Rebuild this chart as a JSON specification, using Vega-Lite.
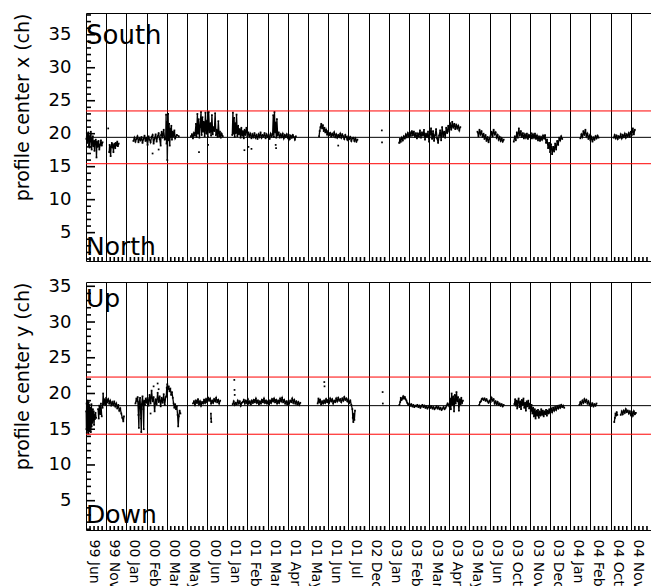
{
  "$schema": "https://vega.github.io/schema/vega-lite/v6.json",
  "background": "white",
  "padding": {"left": 12, "top": 11, "right": 0, "bottom": 0},
  "spacing": 11,
  "config": {
    "view": {"stroke": "black", "strokeWidth": 1},
    "axis": {"labelFont": "DejaVu Sans", "titleFont": "DejaVu Sans", "labelColor": "black", "titleColor": "black", "tickColor": "black", "titleFontWeight": "normal"}
  },
  "datasets": {
    "yminor": [{"k":1},{"k":2},{"k":3},{"k":4},{"k":6},{"k":7},{"k":8},{"k":9},{"k":11},{"k":12},{"k":13},{"k":14},{"k":16},{"k":17},{"k":18},{"k":19},{"k":21},{"k":22},{"k":23},{"k":24},{"k":26},{"k":27},{"k":28},{"k":29},{"k":31},{"k":32},{"k":33},{"k":34},{"k":36},{"k":37},{"k":38}],
    "ymajor": [{"k":5},{"k":10},{"k":15},{"k":20},{"k":25},{"k":30},{"k":35}],
    "xminor": [{"k":0.2},{"k":0.4},{"k":0.6},{"k":0.8},{"k":1.2},{"k":1.4},{"k":1.6},{"k":1.8},{"k":2.2},{"k":2.4},{"k":2.6},{"k":2.8},{"k":3.2},{"k":3.4},{"k":3.6},{"k":3.8},{"k":4.2},{"k":4.4},{"k":4.6},{"k":4.8},{"k":5.2},{"k":5.4},{"k":5.6},{"k":5.8},{"k":6.2},{"k":6.4},{"k":6.6},{"k":6.8},{"k":7.2},{"k":7.4},{"k":7.6},{"k":7.8},{"k":8.2},{"k":8.4},{"k":8.6},{"k":8.8},{"k":9.2},{"k":9.4},{"k":9.6},{"k":9.8},{"k":10.2},{"k":10.4},{"k":10.6},{"k":10.8},{"k":11.2},{"k":11.4},{"k":11.6},{"k":11.8},{"k":12.2},{"k":12.4},{"k":12.6},{"k":12.8},{"k":13.2},{"k":13.4},{"k":13.6},{"k":13.8},{"k":14.2},{"k":14.4},{"k":14.6},{"k":14.8},{"k":15.2},{"k":15.4},{"k":15.6},{"k":15.8},{"k":16.2},{"k":16.4},{"k":16.6},{"k":16.8},{"k":17.2},{"k":17.4},{"k":17.6},{"k":17.8},{"k":18.2},{"k":18.4},{"k":18.6},{"k":18.8},{"k":19.2},{"k":19.4},{"k":19.6},{"k":19.8},{"k":20.2},{"k":20.4},{"k":20.6},{"k":20.8},{"k":21.2},{"k":21.4},{"k":21.6},{"k":21.8},{"k":22.2},{"k":22.4},{"k":22.6},{"k":22.8},{"k":23.2},{"k":23.4},{"k":23.6},{"k":23.8},{"k":24.2},{"k":24.4},{"k":24.6},{"k":24.8},{"k":25.2},{"k":25.4},{"k":25.6},{"k":25.8},{"k":26.2},{"k":26.4},{"k":26.6},{"k":26.8},{"k":27.2},{"k":27.4},{"k":27.6},{"k":27.8}],
    "px": [
      {"s":1,"t":0.02,"v":19.2},{"s":1,"t":0.04,"v":20.1},{"s":1,"t":0.06,"v":18.6},{"s":1,"t":0.08,"v":19.8},{"s":1,"t":0.10,"v":18.9},{"s":1,"t":0.12,"v":20.2},{"s":1,"t":0.14,"v":18.2},{"s":1,"t":0.16,"v":19.5},{"s":1,"t":0.18,"v":17.9},{"s":1,"t":0.20,"v":19.7},{"s":1,"t":0.22,"v":18.8},{"s":1,"t":0.24,"v":20.3},{"s":1,"t":0.26,"v":19.0},{"s":1,"t":0.28,"v":17.6},{"s":1,"t":0.30,"v":19.3},{"s":1,"t":0.32,"v":18.5},{"s":1,"t":0.34,"v":19.6},{"s":1,"t":0.36,"v":18.1},{"s":1,"t":0.40,"v":18.9},{"s":1,"t":0.42,"v":17.4},{"s":1,"t":0.44,"v":18.6},{"s":1,"t":0.48,"v":19.1},{"s":1,"t":0.50,"v":18.4},{"s":1,"t":0.52,"v":16.4},{"s":1,"t":0.54,"v":18.8},{"s":1,"t":0.58,"v":18.0},{"s":1,"t":0.62,"v":18.9},{"s":1,"t":0.66,"v":17.6},{"s":1,"t":0.70,"v":18.3},{"s":1,"t":0.74,"v":19.0},{"s":1,"t":0.78,"v":18.2},{"s":1,"t":0.82,"v":18.7},
      {"s":2,"t":1.1,"v":20.8},
      {"s":3,"t":1.15,"v":17.2},{"s":3,"t":1.17,"v":18.3},{"s":3,"t":1.2,"v":17.6},{"s":3,"t":1.22,"v":16.6},{"s":3,"t":1.24,"v":18.0},{"s":3,"t":1.28,"v":18.6},{"s":3,"t":1.3,"v":17.9},{"s":3,"t":1.33,"v":18.4},{"s":3,"t":1.36,"v":17.2},{"s":3,"t":1.38,"v":18.1},{"s":3,"t":1.42,"v":18.5},{"s":3,"t":1.45,"v":17.8},{"s":3,"t":1.48,"v":18.6},{"s":3,"t":1.52,"v":18.2},{"s":3,"t":1.55,"v":18.8},{"s":3,"t":1.58,"v":18.1},{"s":3,"t":1.62,"v":18.5},
      {"s":4,"t":2.35,"v":18.9},{"s":4,"t":2.4,"v":19.4},{"s":4,"t":2.45,"v":18.8},{"s":4,"t":2.5,"v":19.2},{"s":4,"t":2.55,"v":19.6},{"s":4,"t":2.6,"v":18.7},{"s":4,"t":2.65,"v":19.3},{"s":4,"t":2.7,"v":19.0},{"s":4,"t":2.75,"v":19.5},{"s":4,"t":2.8,"v":18.6},{"s":4,"t":2.85,"v":19.2},{"s":4,"t":2.9,"v":19.7},{"s":4,"t":2.95,"v":18.9},{"s":4,"t":3.0,"v":19.4},{"s":4,"t":3.05,"v":18.3},{"s":4,"t":3.1,"v":19.6},{"s":4,"t":3.15,"v":19.1},{"s":4,"t":3.2,"v":18.7},{"s":4,"t":3.25,"v":19.5},{"s":4,"t":3.3,"v":19.8},{"s":4,"t":3.35,"v":18.5},{"s":4,"t":3.4,"v":19.3},{"s":4,"t":3.45,"v":19.9},{"s":4,"t":3.5,"v":18.8},{"s":4,"t":3.55,"v":19.6},{"s":4,"t":3.6,"v":20.1},{"s":4,"t":3.65,"v":19.2},{"s":4,"t":3.7,"v":18.2},{"s":4,"t":3.72,"v":19.8},{"s":4,"t":3.75,"v":20.3},{"s":4,"t":3.8,"v":19.4},{"s":4,"t":3.85,"v":20.6},{"s":4,"t":3.9,"v":19.1},
      {"s":5,"t":3.3,"v":17.0},{"s":6,"t":3.6,"v":17.6},
      {"s":7,"t":3.95,"v":19.2},{"s":7,"t":3.97,"v":22.9},{"s":7,"t":3.99,"v":18.5},{"s":7,"t":4.01,"v":21.8},{"s":7,"t":4.03,"v":16.0},{"s":7,"t":4.05,"v":20.5},{"s":7,"t":4.07,"v":23.0},{"s":7,"t":4.09,"v":19.0},{"s":7,"t":4.12,"v":21.5},{"s":7,"t":4.15,"v":18.2},{"s":7,"t":4.18,"v":20.8},{"s":7,"t":4.2,"v":19.5},{"s":7,"t":4.23,"v":21.2},{"s":7,"t":4.26,"v":19.1},{"s":7,"t":4.3,"v":20.3},{"s":7,"t":4.34,"v":19.6},{"s":7,"t":4.38,"v":20.5},{"s":7,"t":4.42,"v":19.3},{"s":7,"t":4.5,"v":19.8},{"s":7,"t":4.6,"v":19.6},
      {"s":8,"t":5.2,"v":19.6},{"s":8,"t":5.25,"v":19.9},{"s":8,"t":5.3,"v":19.3},{"s":8,"t":5.35,"v":20.1},{"s":8,"t":5.4,"v":19.7},{"s":8,"t":5.45,"v":21.5},{"s":8,"t":5.48,"v":19.5},{"s":8,"t":5.52,"v":23.0},{"s":8,"t":5.55,"v":20.0},{"s":8,"t":5.58,"v":22.2},{"s":8,"t":5.62,"v":19.4},{"s":8,"t":5.65,"v":21.0},{"s":8,"t":5.7,"v":23.3},{"s":8,"t":5.73,"v":19.8},{"s":8,"t":5.77,"v":22.5},{"s":8,"t":5.8,"v":20.3},{"s":8,"t":5.84,"v":21.8},{"s":8,"t":5.88,"v":19.6},{"s":8,"t":5.92,"v":23.2},{"s":8,"t":5.96,"v":20.0},{"s":8,"t":6.0,"v":22.0},{"s":8,"t":6.04,"v":19.5},{"s":8,"t":6.08,"v":23.3},{"s":8,"t":6.12,"v":20.2},{"s":8,"t":6.16,"v":21.6},{"s":8,"t":6.2,"v":19.7},{"s":8,"t":6.24,"v":22.8},{"s":8,"t":6.28,"v":19.9},{"s":8,"t":6.32,"v":21.0},{"s":8,"t":6.36,"v":20.4},{"s":8,"t":6.4,"v":23.1},{"s":8,"t":6.44,"v":19.8},{"s":8,"t":6.48,"v":20.6},{"s":8,"t":6.52,"v":19.5},{"s":8,"t":6.56,"v":21.9},{"s":8,"t":6.6,"v":19.6},{"s":8,"t":6.64,"v":20.3},{"s":8,"t":6.68,"v":19.4},{"s":8,"t":6.72,"v":20.0},{"s":8,"t":6.78,"v":19.6},
      {"s":9,"t":5.6,"v":17.2},{"s":10,"t":6.05,"v":18.3},
      {"s":11,"t":7.25,"v":19.8},{"s":11,"t":7.28,"v":23.2},{"s":11,"t":7.31,"v":20.0},{"s":11,"t":7.34,"v":22.4},{"s":11,"t":7.37,"v":19.5},{"s":11,"t":7.4,"v":21.6},{"s":11,"t":7.43,"v":20.1},{"s":11,"t":7.46,"v":22.9},{"s":11,"t":7.5,"v":19.6},{"s":11,"t":7.54,"v":21.2},{"s":11,"t":7.58,"v":19.9},{"s":11,"t":7.62,"v":20.7},{"s":11,"t":7.66,"v":19.4},{"s":11,"t":7.7,"v":20.9},{"s":11,"t":7.74,"v":19.7},{"s":11,"t":7.78,"v":20.4},{"s":11,"t":7.82,"v":19.3},{"s":11,"t":7.86,"v":20.6},{"s":11,"t":7.9,"v":19.8},{"s":11,"t":7.95,"v":20.9},{"s":11,"t":8.0,"v":19.5},{"s":11,"t":8.05,"v":20.2},{"s":11,"t":8.1,"v":19.6},{"s":11,"t":8.15,"v":20.0},{"s":11,"t":8.2,"v":19.3},{"s":11,"t":8.25,"v":19.9},{"s":11,"t":8.3,"v":19.5},{"s":11,"t":8.35,"v":20.1},{"s":11,"t":8.4,"v":19.4},{"s":11,"t":8.45,"v":19.8},{"s":11,"t":8.5,"v":19.2},{"s":11,"t":8.55,"v":19.9},{"s":11,"t":8.6,"v":19.5},{"s":11,"t":8.65,"v":20.2},{"s":11,"t":8.7,"v":19.4},{"s":11,"t":8.75,"v":19.8},{"s":11,"t":8.8,"v":19.6},{"s":11,"t":8.85,"v":20.1},{"s":11,"t":8.9,"v":19.3},{"s":11,"t":8.95,"v":19.9},{"s":11,"t":9.0,"v":19.5},{"s":11,"t":9.05,"v":19.8},{"s":11,"t":9.1,"v":19.2},{"s":11,"t":9.15,"v":20.0},{"s":11,"t":9.2,"v":19.6},{"s":11,"t":9.25,"v":19.9},{"s":11,"t":9.28,"v":22.8},{"s":11,"t":9.31,"v":19.5},{"s":11,"t":9.34,"v":23.3},{"s":11,"t":9.37,"v":20.2},{"s":11,"t":9.4,"v":21.7},{"s":11,"t":9.43,"v":19.4},{"s":11,"t":9.46,"v":22.2},{"s":11,"t":9.5,"v":19.7},{"s":11,"t":9.55,"v":20.2},{"s":11,"t":9.6,"v":19.4},{"s":11,"t":9.65,"v":19.9},{"s":11,"t":9.7,"v":19.5},{"s":11,"t":9.75,"v":20.0},{"s":11,"t":9.8,"v":19.3},{"s":11,"t":9.85,"v":19.8},{"s":11,"t":9.9,"v":19.5},{"s":11,"t":9.95,"v":19.9},{"s":11,"t":10.0,"v":19.4},{"s":11,"t":10.05,"v":19.8},{"s":11,"t":10.1,"v":19.2},{"s":11,"t":10.15,"v":19.7},{"s":11,"t":10.2,"v":19.4},{"s":11,"t":10.25,"v":19.8},{"s":11,"t":10.3,"v":19.5},{"s":11,"t":10.35,"v":19.1},{"s":11,"t":10.4,"v":19.6},
      {"s":13,"t":7.85,"v":17.5},{"s":14,"t":8.2,"v":17.7},{"s":15,"t":8.05,"v":18.0},{"s":16,"t":9.4,"v":18.3},{"s":17,"t":9.42,"v":17.8},
      {"s":18,"t":11.55,"v":19.6},{"s":18,"t":11.58,"v":20.4},{"s":18,"t":11.62,"v":21.0},{"s":18,"t":11.66,"v":21.5},{"s":18,"t":11.7,"v":20.8},{"s":18,"t":11.74,"v":21.3},{"s":18,"t":11.78,"v":20.4},{"s":18,"t":11.82,"v":20.9},{"s":18,"t":11.86,"v":20.2},{"s":18,"t":11.9,"v":20.6},{"s":18,"t":11.95,"v":19.9},{"s":18,"t":12.0,"v":20.4},{"s":18,"t":12.05,"v":19.8},{"s":18,"t":12.1,"v":20.1},{"s":18,"t":12.15,"v":19.6},{"s":18,"t":12.2,"v":20.0},{"s":18,"t":12.25,"v":19.7},{"s":18,"t":12.3,"v":20.2},{"s":18,"t":12.35,"v":19.5},{"s":18,"t":12.4,"v":19.9},{"s":18,"t":12.45,"v":19.4},{"s":18,"t":12.5,"v":19.8},{"s":18,"t":12.55,"v":19.5},{"s":18,"t":12.6,"v":20.0},{"s":18,"t":12.65,"v":19.4},{"s":18,"t":12.7,"v":19.9},{"s":18,"t":12.75,"v":19.6},{"s":18,"t":12.8,"v":19.2},{"s":18,"t":12.85,"v":19.8},{"s":18,"t":12.9,"v":19.5},{"s":18,"t":12.95,"v":19.1},{"s":18,"t":13.0,"v":19.6},{"s":18,"t":13.05,"v":19.2},{"s":18,"t":13.1,"v":19.5},{"s":18,"t":13.15,"v":18.9},{"s":18,"t":13.2,"v":19.3},{"s":18,"t":13.25,"v":19.4},{"s":18,"t":13.3,"v":18.9},{"s":18,"t":13.35,"v":19.3},{"s":18,"t":13.4,"v":18.8},{"s":18,"t":13.45,"v":19.1},
      {"s":19,"t":12.5,"v":18.2},{"s":20,"t":14.66,"v":20.5},{"s":21,"t":14.67,"v":18.7},
      {"s":22,"t":15.52,"v":18.6},{"s":22,"t":15.56,"v":19.2},{"s":22,"t":15.6,"v":18.8},{"s":22,"t":15.65,"v":19.4},{"s":22,"t":15.7,"v":19.0},{"s":22,"t":15.75,"v":19.6},{"s":22,"t":15.8,"v":19.3},{"s":22,"t":15.85,"v":19.9},{"s":22,"t":15.9,"v":19.5},{"s":22,"t":15.95,"v":20.1},{"s":22,"t":16.0,"v":19.6},{"s":22,"t":16.05,"v":20.2},{"s":22,"t":16.1,"v":19.7},{"s":22,"t":16.15,"v":20.4},{"s":22,"t":16.2,"v":19.8},{"s":22,"t":16.25,"v":20.3},{"s":22,"t":16.3,"v":19.5},{"s":22,"t":16.35,"v":20.1},{"s":22,"t":16.4,"v":19.3},{"s":22,"t":16.45,"v":20.0},{"s":22,"t":16.5,"v":19.6},{"s":22,"t":16.55,"v":20.5},{"s":22,"t":16.6,"v":19.4},{"s":22,"t":16.65,"v":20.2},{"s":22,"t":16.7,"v":19.7},{"s":22,"t":16.75,"v":20.6},{"s":22,"t":16.8,"v":19.1},{"s":22,"t":16.85,"v":20.0},{"s":22,"t":16.9,"v":19.5},{"s":22,"t":16.95,"v":20.3},{"s":22,"t":17.0,"v":18.8},{"s":22,"t":17.05,"v":19.9},{"s":22,"t":17.1,"v":20.8},{"s":22,"t":17.15,"v":19.2},{"s":22,"t":17.2,"v":20.4},{"s":22,"t":17.25,"v":18.9},{"s":22,"t":17.3,"v":19.8},{"s":22,"t":17.35,"v":20.7},{"s":22,"t":17.4,"v":19.3},{"s":22,"t":17.45,"v":18.6},{"s":22,"t":17.5,"v":19.7},{"s":22,"t":17.55,"v":20.5},{"s":22,"t":17.6,"v":19.0},{"s":22,"t":17.65,"v":21.0},{"s":22,"t":17.7,"v":19.6},{"s":22,"t":17.75,"v":20.3},{"s":22,"t":17.8,"v":19.4},{"s":22,"t":17.85,"v":20.9},{"s":22,"t":17.9,"v":20.1},{"s":22,"t":17.95,"v":21.2},{"s":22,"t":18.0,"v":20.3},{"s":22,"t":18.05,"v":21.6},{"s":22,"t":18.1,"v":20.6},{"s":22,"t":18.15,"v":21.8},{"s":22,"t":18.2,"v":20.9},{"s":22,"t":18.25,"v":21.5},{"s":22,"t":18.3,"v":20.7},{"s":22,"t":18.35,"v":21.4},{"s":22,"t":18.4,"v":20.8},{"s":22,"t":18.45,"v":21.2},{"s":22,"t":18.5,"v":20.5},{"s":22,"t":18.55,"v":21.0},
      {"s":23,"t":19.4,"v":20.3},{"s":23,"t":19.45,"v":19.6},{"s":23,"t":19.5,"v":20.6},{"s":23,"t":19.55,"v":19.9},{"s":23,"t":19.6,"v":20.4},{"s":23,"t":19.65,"v":19.5},{"s":23,"t":19.7,"v":20.0},{"s":23,"t":19.75,"v":19.2},{"s":23,"t":19.8,"v":19.8},{"s":23,"t":19.85,"v":18.9},{"s":23,"t":19.9,"v":19.5},{"s":23,"t":19.95,"v":18.7},{"s":23,"t":20.0,"v":19.3},{"s":23,"t":20.05,"v":19.7},{"s":23,"t":20.1,"v":20.3},{"s":23,"t":20.15,"v":19.6},{"s":23,"t":20.2,"v":20.6},{"s":23,"t":20.25,"v":19.9},{"s":23,"t":20.3,"v":20.2},{"s":23,"t":20.35,"v":19.4},{"s":23,"t":20.4,"v":19.8},{"s":23,"t":20.45,"v":19.1},{"s":23,"t":20.5,"v":19.5},{"s":23,"t":20.55,"v":18.9},{"s":23,"t":20.6,"v":19.3},{"s":23,"t":20.65,"v":18.8},{"s":23,"t":20.7,"v":19.1},
      {"s":24,"t":21.2,"v":18.8},{"s":24,"t":21.25,"v":19.6},{"s":24,"t":21.3,"v":19.0},{"s":24,"t":21.35,"v":20.2},{"s":24,"t":21.4,"v":19.4},{"s":24,"t":21.45,"v":20.8},{"s":24,"t":21.5,"v":19.7},{"s":24,"t":21.55,"v":20.4},{"s":24,"t":21.6,"v":19.5},{"s":24,"t":21.65,"v":20.1},{"s":24,"t":21.7,"v":19.3},{"s":24,"t":21.75,"v":19.9},{"s":24,"t":21.8,"v":19.4},{"s":24,"t":21.85,"v":20.0},{"s":24,"t":21.9,"v":19.2},{"s":24,"t":21.95,"v":19.8},{"s":24,"t":22.0,"v":19.5},{"s":24,"t":22.05,"v":20.1},{"s":24,"t":22.1,"v":19.3},{"s":24,"t":22.15,"v":19.9},{"s":24,"t":22.2,"v":19.4},{"s":24,"t":22.25,"v":20.0},{"s":24,"t":22.3,"v":19.2},{"s":24,"t":22.35,"v":19.7},{"s":24,"t":22.4,"v":19.0},{"s":24,"t":22.45,"v":19.6},{"s":24,"t":22.5,"v":18.9},{"s":24,"t":22.55,"v":19.5},{"s":24,"t":22.6,"v":19.1},{"s":24,"t":22.65,"v":19.7},{"s":24,"t":22.7,"v":19.3},{"s":24,"t":22.75,"v":19.8},{"s":24,"t":22.8,"v":18.6},{"s":24,"t":22.85,"v":19.1},{"s":24,"t":22.9,"v":17.8},{"s":24,"t":22.95,"v":18.6},{"s":24,"t":23.0,"v":17.2},{"s":24,"t":23.05,"v":18.4},{"s":24,"t":23.1,"v":16.9},{"s":24,"t":23.15,"v":18.0},{"s":24,"t":23.2,"v":17.3},{"s":24,"t":23.25,"v":18.5},{"s":24,"t":23.3,"v":17.6},{"s":24,"t":23.35,"v":18.9},{"s":24,"t":23.4,"v":18.3},{"s":24,"t":23.45,"v":19.4},{"s":24,"t":23.5,"v":19.0},{"s":24,"t":23.55,"v":19.6},{"s":24,"t":23.6,"v":19.2},
      {"s":25,"t":24.5,"v":19.3},{"s":25,"t":24.55,"v":19.9},{"s":25,"t":24.6,"v":19.5},{"s":25,"t":24.65,"v":20.4},{"s":25,"t":24.7,"v":19.8},{"s":25,"t":24.75,"v":20.6},{"s":25,"t":24.8,"v":19.6},{"s":25,"t":24.85,"v":20.0},{"s":25,"t":24.9,"v":19.2},{"s":25,"t":24.95,"v":19.7},{"s":25,"t":25.0,"v":19.0},{"s":25,"t":25.05,"v":19.5},{"s":25,"t":25.1,"v":18.8},{"s":25,"t":25.15,"v":19.4},{"s":25,"t":25.2,"v":19.1},{"s":25,"t":25.25,"v":19.6},{"s":25,"t":25.3,"v":19.3},{"s":25,"t":25.35,"v":19.7},{"s":25,"t":25.4,"v":19.4},
      {"s":26,"t":26.15,"v":19.4},{"s":26,"t":26.2,"v":19.8},{"s":26,"t":26.25,"v":19.3},{"s":26,"t":26.3,"v":19.7},{"s":26,"t":26.35,"v":19.2},{"s":26,"t":26.4,"v":19.6},{"s":26,"t":26.45,"v":19.4},{"s":26,"t":26.5,"v":19.9},{"s":26,"t":26.55,"v":19.3},{"s":26,"t":26.6,"v":19.8},{"s":26,"t":26.65,"v":19.5},{"s":26,"t":26.7,"v":20.0},{"s":26,"t":26.75,"v":19.4},{"s":26,"t":26.8,"v":19.9},{"s":26,"t":26.85,"v":19.6},{"s":26,"t":26.9,"v":20.1},{"s":26,"t":26.95,"v":19.5},{"s":26,"t":27.0,"v":20.3},{"s":26,"t":27.05,"v":19.8},{"s":26,"t":27.1,"v":20.8},{"s":26,"t":27.15,"v":19.9},{"s":26,"t":27.2,"v":20.6}
    ],
    "py": [
      {"s":1,"t":0.01,"v":17.5},{"s":1,"t":0.02,"v":15.0},{"s":1,"t":0.03,"v":18.6},{"s":1,"t":0.04,"v":14.5},{"s":1,"t":0.05,"v":17.9},{"s":1,"t":0.06,"v":15.3},{"s":1,"t":0.07,"v":19.0},{"s":1,"t":0.08,"v":14.8},{"s":1,"t":0.09,"v":18.2},{"s":1,"t":0.10,"v":15.6},{"s":1,"t":0.11,"v":17.4},{"s":1,"t":0.12,"v":14.4},{"s":1,"t":0.13,"v":18.8},{"s":1,"t":0.14,"v":15.1},{"s":1,"t":0.15,"v":17.0},{"s":1,"t":0.16,"v":14.7},{"s":1,"t":0.17,"v":18.4},{"s":1,"t":0.18,"v":15.5},{"s":1,"t":0.19,"v":17.7},{"s":1,"t":0.20,"v":14.9},{"s":1,"t":0.21,"v":18.0},{"s":1,"t":0.22,"v":15.2},{"s":1,"t":0.23,"v":16.8},{"s":1,"t":0.24,"v":14.6},{"s":1,"t":0.25,"v":17.6},{"s":1,"t":0.26,"v":15.8},{"s":1,"t":0.27,"v":18.5},{"s":1,"t":0.28,"v":15.4},{"s":1,"t":0.30,"v":17.2},{"s":1,"t":0.32,"v":15.9},{"s":1,"t":0.34,"v":17.8},{"s":1,"t":0.36,"v":16.2},{"s":1,"t":0.38,"v":17.5},{"s":1,"t":0.40,"v":15.6},{"s":1,"t":0.42,"v":17.0},{"s":1,"t":0.44,"v":16.4},{"s":1,"t":0.47,"v":17.3},{"s":1,"t":0.50,"v":16.6},
      {"s":2,"t":0.6,"v":17.8},{"s":2,"t":0.63,"v":16.5},{"s":2,"t":0.66,"v":18.3},{"s":2,"t":0.7,"v":17.1},{"s":2,"t":0.74,"v":18.6},{"s":2,"t":0.78,"v":16.8},
      {"s":3,"t":0.82,"v":18.0},{"s":3,"t":0.85,"v":20.0},{"s":3,"t":0.88,"v":18.5},{"s":3,"t":0.92,"v":19.2},{"s":3,"t":0.96,"v":18.4},{"s":3,"t":1.0,"v":19.4},{"s":3,"t":1.05,"v":18.8},{"s":3,"t":1.1,"v":19.2},{"s":3,"t":1.15,"v":18.6},{"s":3,"t":1.2,"v":19.0},{"s":3,"t":1.25,"v":18.3},{"s":3,"t":1.3,"v":18.8},{"s":3,"t":1.35,"v":18.4},{"s":3,"t":1.4,"v":18.9},{"s":3,"t":1.45,"v":18.2},{"s":3,"t":1.5,"v":18.6},{"s":3,"t":1.55,"v":17.9},{"s":3,"t":1.6,"v":18.4},{"s":3,"t":1.65,"v":17.6},{"s":3,"t":1.7,"v":17.9},{"s":3,"t":1.75,"v":17.2},{"s":3,"t":1.8,"v":16.6},{"s":3,"t":1.85,"v":16.1},{"s":3,"t":1.88,"v":16.8},
      {"s":4,"t":2.45,"v":18.6},{"s":4,"t":2.5,"v":19.3},{"s":4,"t":2.53,"v":18.9},{"s":4,"t":2.56,"v":19.5},{"s":4,"t":2.6,"v":17.0},{"s":4,"t":2.62,"v":15.2},{"s":4,"t":2.64,"v":18.8},{"s":4,"t":2.68,"v":19.4},{"s":4,"t":2.72,"v":16.5},{"s":4,"t":2.74,"v":14.6},{"s":4,"t":2.76,"v":18.5},{"s":4,"t":2.8,"v":19.6},{"s":4,"t":2.84,"v":17.8},{"s":4,"t":2.86,"v":15.0},{"s":4,"t":2.88,"v":19.0},{"s":4,"t":2.92,"v":18.4},{"s":4,"t":2.96,"v":19.3},{"s":4,"t":3.0,"v":18.7},{"s":4,"t":3.05,"v":19.4},{"s":4,"t":3.1,"v":18.3},{"s":4,"t":3.15,"v":19.8},{"s":4,"t":3.2,"v":18.6},{"s":4,"t":3.25,"v":20.4},{"s":4,"t":3.3,"v":18.9},{"s":4,"t":3.35,"v":19.5},{"s":4,"t":3.4,"v":17.5},{"s":4,"t":3.45,"v":19.2},{"s":4,"t":3.5,"v":18.5},{"s":4,"t":3.55,"v":20.1},{"s":4,"t":3.6,"v":18.8},{"s":4,"t":3.65,"v":19.6},{"s":4,"t":3.7,"v":18.2},{"s":4,"t":3.75,"v":19.4},{"s":4,"t":3.8,"v":18.7},{"s":4,"t":3.85,"v":19.9},{"s":4,"t":3.9,"v":18.4},{"s":4,"t":3.95,"v":19.5},
      {"s":6,"t":3.35,"v":21.0},{"s":7,"t":3.55,"v":21.4},{"s":8,"t":3.6,"v":20.6},{"s":9,"t":3.2,"v":17.2},
      {"s":10,"t":3.98,"v":19.6},{"s":10,"t":4.0,"v":20.8},{"s":10,"t":4.03,"v":21.3},{"s":10,"t":4.06,"v":20.6},{"s":10,"t":4.1,"v":21.0},{"s":10,"t":4.14,"v":20.3},{"s":10,"t":4.18,"v":20.7},{"s":10,"t":4.22,"v":19.8},{"s":10,"t":4.26,"v":20.2},{"s":10,"t":4.3,"v":19.4},{"s":10,"t":4.34,"v":18.6},{"s":10,"t":4.38,"v":18.0},{"s":10,"t":4.42,"v":18.5},{"s":10,"t":4.46,"v":17.8},{"s":10,"t":4.5,"v":18.2},{"s":10,"t":4.54,"v":17.0},{"s":10,"t":4.57,"v":15.4},{"s":10,"t":4.6,"v":16.8},{"s":10,"t":4.64,"v":17.6},{"s":10,"t":4.68,"v":17.2},
      {"s":11,"t":5.3,"v":18.6},{"s":11,"t":5.35,"v":18.9},{"s":11,"t":5.4,"v":18.4},{"s":11,"t":5.45,"v":19.0},{"s":11,"t":5.5,"v":18.7},{"s":11,"t":5.55,"v":19.2},{"s":11,"t":5.6,"v":18.5},{"s":11,"t":5.65,"v":18.9},{"s":11,"t":5.7,"v":18.3},{"s":11,"t":5.75,"v":18.8},{"s":11,"t":5.8,"v":18.6},{"s":11,"t":5.85,"v":19.1},{"s":11,"t":5.9,"v":18.7},{"s":11,"t":5.95,"v":19.2},{"s":11,"t":6.0,"v":18.8},{"s":11,"t":6.05,"v":19.4},{"s":11,"t":6.1,"v":19.0},{"s":11,"t":6.15,"v":19.3},{"s":11,"t":6.2,"v":18.6},{"s":11,"t":6.25,"v":19.0},{"s":11,"t":6.3,"v":18.7},{"s":11,"t":6.35,"v":19.2},{"s":11,"t":6.4,"v":18.9},{"s":11,"t":6.45,"v":19.4},{"s":11,"t":6.5,"v":18.8},{"s":11,"t":6.55,"v":19.1},{"s":11,"t":6.6,"v":18.6},{"s":11,"t":6.65,"v":19.0},
      {"s":12,"t":6.19,"v":17.2},{"s":12,"t":6.2,"v":16.5},{"s":12,"t":6.21,"v":16.0},
      {"s":15,"t":7.27,"v":18.5},{"s":15,"t":7.32,"v":18.9},{"s":15,"t":7.37,"v":18.4},{"s":15,"t":7.42,"v":18.7},{"s":15,"t":7.47,"v":18.5},{"s":15,"t":7.52,"v":19.0},{"s":15,"t":7.57,"v":18.6},{"s":15,"t":7.62,"v":18.9},{"s":15,"t":7.67,"v":18.3},{"s":15,"t":7.72,"v":18.7},{"s":15,"t":7.77,"v":18.8},{"s":15,"t":7.82,"v":19.1},{"s":15,"t":7.87,"v":18.6},{"s":15,"t":7.92,"v":19.0},{"s":15,"t":7.97,"v":18.7},{"s":15,"t":8.02,"v":19.2},{"s":15,"t":8.07,"v":18.6},{"s":15,"t":8.12,"v":18.9},{"s":15,"t":8.17,"v":18.5},{"s":15,"t":8.22,"v":19.0},{"s":15,"t":8.27,"v":18.7},{"s":15,"t":8.32,"v":19.1},{"s":15,"t":8.37,"v":18.8},{"s":15,"t":8.42,"v":19.3},{"s":15,"t":8.47,"v":18.7},{"s":15,"t":8.52,"v":19.0},{"s":15,"t":8.57,"v":18.5},{"s":15,"t":8.62,"v":18.9},{"s":15,"t":8.67,"v":18.6},{"s":15,"t":8.72,"v":19.1},{"s":15,"t":8.77,"v":18.8},{"s":15,"t":8.82,"v":19.3},{"s":15,"t":8.87,"v":18.7},{"s":15,"t":8.92,"v":19.0},{"s":15,"t":8.97,"v":18.6},{"s":15,"t":9.02,"v":18.9},{"s":15,"t":9.07,"v":18.5},{"s":15,"t":9.12,"v":19.0},{"s":15,"t":9.17,"v":18.7},{"s":15,"t":9.22,"v":19.2},{"s":15,"t":9.27,"v":18.9},{"s":15,"t":9.32,"v":19.3},{"s":15,"t":9.37,"v":18.8},{"s":15,"t":9.42,"v":19.1},{"s":15,"t":9.47,"v":18.6},{"s":15,"t":9.52,"v":19.0},{"s":15,"t":9.57,"v":18.7},{"s":15,"t":9.62,"v":19.3},{"s":15,"t":9.67,"v":18.9},{"s":15,"t":9.72,"v":19.4},{"s":15,"t":9.77,"v":18.8},{"s":15,"t":9.82,"v":19.1},{"s":15,"t":9.87,"v":18.6},{"s":15,"t":9.92,"v":18.9},{"s":15,"t":9.97,"v":18.5},{"s":15,"t":10.02,"v":18.9},{"s":15,"t":10.07,"v":18.6},{"s":15,"t":10.12,"v":19.0},{"s":15,"t":10.17,"v":18.8},{"s":15,"t":10.22,"v":19.3},{"s":15,"t":10.27,"v":18.7},{"s":15,"t":10.32,"v":19.1},{"s":15,"t":10.37,"v":18.6},{"s":15,"t":10.42,"v":18.9},{"s":15,"t":10.47,"v":18.5},{"s":15,"t":10.52,"v":18.8},{"s":15,"t":10.57,"v":18.4},{"s":15,"t":10.62,"v":18.7},
      {"s":16,"t":7.35,"v":21.9},{"s":17,"t":7.36,"v":20.5},{"s":18,"t":7.37,"v":19.8},
      {"s":19,"t":11.48,"v":18.6},{"s":19,"t":11.52,"v":19.3},{"s":19,"t":11.56,"v":18.8},{"s":19,"t":11.6,"v":19.1},{"s":19,"t":11.65,"v":18.5},{"s":19,"t":11.7,"v":18.9},{"s":19,"t":11.75,"v":18.6},{"s":19,"t":11.8,"v":19.0},{"s":19,"t":11.85,"v":18.7},{"s":19,"t":11.9,"v":19.2},{"s":19,"t":11.95,"v":18.8},{"s":19,"t":12.0,"v":19.1},{"s":19,"t":12.05,"v":18.7},{"s":19,"t":12.1,"v":19.3},{"s":19,"t":12.15,"v":18.9},{"s":19,"t":12.2,"v":19.2},{"s":19,"t":12.25,"v":18.6},{"s":19,"t":12.3,"v":19.0},{"s":19,"t":12.35,"v":18.8},{"s":19,"t":12.4,"v":19.3},{"s":19,"t":12.45,"v":18.9},{"s":19,"t":12.5,"v":19.4},{"s":19,"t":12.55,"v":19.0},{"s":19,"t":12.6,"v":19.2},{"s":19,"t":12.65,"v":18.8},{"s":19,"t":12.7,"v":19.3},{"s":19,"t":12.75,"v":19.0},{"s":19,"t":12.8,"v":19.5},{"s":19,"t":12.85,"v":19.1},{"s":19,"t":12.9,"v":19.3},{"s":19,"t":12.95,"v":18.9},{"s":19,"t":13.0,"v":19.2},{"s":19,"t":13.05,"v":18.7},{"s":19,"t":13.1,"v":19.0},{"s":19,"t":13.15,"v":18.4},{"s":19,"t":13.2,"v":17.8},{"s":19,"t":13.22,"v":16.6},{"s":19,"t":13.25,"v":16.0},{"s":19,"t":13.28,"v":17.2},{"s":19,"t":13.3,"v":16.3},{"s":19,"t":13.33,"v":17.6},
      {"s":20,"t":11.81,"v":21.6},{"s":21,"t":11.82,"v":21.0},{"s":22,"t":14.7,"v":20.2},{"s":23,"t":14.71,"v":18.6},
      {"s":24,"t":15.53,"v":18.4},{"s":24,"t":15.57,"v":18.8},{"s":24,"t":15.6,"v":19.4},{"s":24,"t":15.64,"v":19.1},{"s":24,"t":15.68,"v":19.3},{"s":24,"t":15.72,"v":19.6},{"s":24,"t":15.76,"v":19.3},{"s":24,"t":15.8,"v":19.5},{"s":24,"t":15.84,"v":19.2},{"s":24,"t":15.88,"v":19.0},{"s":24,"t":15.92,"v":18.7},{"s":24,"t":15.97,"v":18.4},{"s":24,"t":16.02,"v":18.6},{"s":24,"t":16.07,"v":18.3},{"s":24,"t":16.12,"v":18.5},{"s":24,"t":16.17,"v":18.2},{"s":24,"t":16.22,"v":18.4},{"s":24,"t":16.27,"v":18.1},{"s":24,"t":16.32,"v":18.3},{"s":24,"t":16.37,"v":18.2},{"s":24,"t":16.42,"v":18.4},{"s":24,"t":16.47,"v":18.1},{"s":24,"t":16.52,"v":18.3},{"s":24,"t":16.57,"v":18.0},{"s":24,"t":16.62,"v":18.2},{"s":24,"t":16.67,"v":18.4},{"s":24,"t":16.72,"v":18.1},{"s":24,"t":16.77,"v":18.3},{"s":24,"t":16.82,"v":18.0},{"s":24,"t":16.87,"v":18.2},{"s":24,"t":16.92,"v":17.9},{"s":24,"t":16.97,"v":18.1},{"s":24,"t":17.02,"v":18.3},{"s":24,"t":17.07,"v":18.0},{"s":24,"t":17.12,"v":18.2},{"s":24,"t":17.17,"v":17.9},{"s":24,"t":17.22,"v":18.1},{"s":24,"t":17.27,"v":17.8},{"s":24,"t":17.32,"v":18.0},{"s":24,"t":17.37,"v":18.2},{"s":24,"t":17.42,"v":17.9},{"s":24,"t":17.47,"v":18.1},{"s":24,"t":17.52,"v":17.8},{"s":24,"t":17.57,"v":18.0},{"s":24,"t":17.62,"v":17.7},{"s":24,"t":17.67,"v":17.9},{"s":24,"t":17.72,"v":18.1},{"s":24,"t":17.77,"v":17.8},{"s":24,"t":17.82,"v":18.0},{"s":24,"t":17.87,"v":18.3},{"s":24,"t":17.92,"v":18.6},{"s":24,"t":17.97,"v":18.4},
      {"s":25,"t":18.0,"v":18.2},{"s":25,"t":18.04,"v":19.3},{"s":25,"t":18.08,"v":17.8},{"s":25,"t":18.12,"v":20.0},{"s":25,"t":18.16,"v":18.4},{"s":25,"t":18.2,"v":19.6},{"s":25,"t":18.24,"v":17.5},{"s":25,"t":18.28,"v":19.8},{"s":25,"t":18.32,"v":18.6},{"s":25,"t":18.36,"v":20.2},{"s":25,"t":18.4,"v":18.9},{"s":25,"t":18.44,"v":19.5},{"s":25,"t":18.48,"v":17.6},{"s":25,"t":18.52,"v":19.2},{"s":25,"t":18.56,"v":18.5},{"s":25,"t":18.6,"v":19.4},{"s":25,"t":18.64,"v":18.7},{"s":25,"t":18.68,"v":19.0},
      {"s":26,"t":19.49,"v":18.4},{"s":26,"t":19.53,"v":18.8},{"s":26,"t":19.57,"v":18.9},{"s":26,"t":19.61,"v":19.2},{"s":26,"t":19.65,"v":19.3},{"s":26,"t":19.7,"v":19.1},{"s":26,"t":19.75,"v":19.3},{"s":26,"t":19.8,"v":19.0},{"s":26,"t":19.85,"v":19.2},{"s":26,"t":19.9,"v":18.9},{"s":26,"t":19.95,"v":18.7},{"s":26,"t":20.0,"v":19.0},{"s":26,"t":20.05,"v":18.8},{"s":26,"t":20.1,"v":19.4},{"s":26,"t":20.15,"v":19.0},{"s":26,"t":20.2,"v":19.2},{"s":26,"t":20.25,"v":18.6},{"s":26,"t":20.3,"v":18.9},{"s":26,"t":20.35,"v":18.5},{"s":26,"t":20.4,"v":18.8},{"s":26,"t":20.45,"v":18.4},{"s":26,"t":20.5,"v":18.6},{"s":26,"t":20.55,"v":18.3},{"s":26,"t":20.6,"v":18.5},{"s":26,"t":20.65,"v":18.2},{"s":26,"t":20.7,"v":18.4},
      {"s":27,"t":21.23,"v":18.5},{"s":27,"t":21.27,"v":19.2},{"s":27,"t":21.3,"v":18.3},{"s":27,"t":21.34,"v":19.0},{"s":27,"t":21.37,"v":17.9},{"s":27,"t":21.4,"v":18.8},{"s":27,"t":21.44,"v":19.3},{"s":27,"t":21.48,"v":18.1},{"s":27,"t":21.52,"v":18.9},{"s":27,"t":21.56,"v":17.8},{"s":27,"t":21.6,"v":19.1},{"s":27,"t":21.64,"v":18.4},{"s":27,"t":21.68,"v":19.3},{"s":27,"t":21.72,"v":18.0},{"s":27,"t":21.76,"v":18.7},{"s":27,"t":21.8,"v":17.6},{"s":27,"t":21.84,"v":18.9},{"s":27,"t":21.88,"v":18.2},{"s":27,"t":21.92,"v":19.0},{"s":27,"t":21.96,"v":17.9},{"s":27,"t":22.0,"v":18.6},{"s":27,"t":22.04,"v":17.5},{"s":27,"t":22.08,"v":18.4},{"s":27,"t":22.12,"v":17.2},{"s":27,"t":22.16,"v":18.0},{"s":27,"t":22.2,"v":16.8},{"s":27,"t":22.24,"v":17.8},{"s":27,"t":22.28,"v":16.5},{"s":27,"t":22.32,"v":17.6},{"s":27,"t":22.36,"v":16.9},{"s":27,"t":22.4,"v":17.7},{"s":27,"t":22.44,"v":16.6},{"s":27,"t":22.48,"v":17.5},{"s":27,"t":22.52,"v":16.9},{"s":27,"t":22.56,"v":17.8},{"s":27,"t":22.6,"v":17.0},{"s":27,"t":22.64,"v":17.6},{"s":27,"t":22.68,"v":16.8},{"s":27,"t":22.72,"v":17.5},{"s":27,"t":22.76,"v":17.1},{"s":27,"t":22.8,"v":17.7},{"s":27,"t":22.84,"v":16.9},{"s":27,"t":22.88,"v":17.6},{"s":27,"t":22.92,"v":17.2},{"s":27,"t":22.96,"v":17.8},{"s":27,"t":23.0,"v":17.3},{"s":27,"t":23.05,"v":17.9},{"s":27,"t":23.1,"v":17.4},{"s":27,"t":23.15,"v":18.0},{"s":27,"t":23.2,"v":17.6},{"s":27,"t":23.25,"v":18.1},{"s":27,"t":23.3,"v":17.7},{"s":27,"t":23.35,"v":18.2},{"s":27,"t":23.4,"v":17.9},{"s":27,"t":23.45,"v":18.3},{"s":27,"t":23.5,"v":18.0},{"s":27,"t":23.55,"v":18.4},{"s":27,"t":23.6,"v":18.1},{"s":27,"t":23.65,"v":18.3},{"s":27,"t":23.7,"v":18.0},
      {"s":28,"t":24.45,"v":18.4},{"s":28,"t":24.5,"v":18.8},{"s":28,"t":24.55,"v":18.5},{"s":28,"t":24.6,"v":19.0},{"s":28,"t":24.65,"v":18.7},{"s":28,"t":24.7,"v":19.2},{"s":28,"t":24.75,"v":18.8},{"s":28,"t":24.8,"v":19.1},{"s":28,"t":24.85,"v":18.6},{"s":28,"t":24.9,"v":18.9},{"s":28,"t":24.95,"v":18.4},{"s":28,"t":25.0,"v":18.7},{"s":28,"t":25.05,"v":18.3},{"s":28,"t":25.1,"v":18.6},{"s":28,"t":25.15,"v":18.2},{"s":28,"t":25.2,"v":18.5},{"s":28,"t":25.25,"v":18.3},{"s":28,"t":25.3,"v":18.6},
      {"s":29,"t":26.18,"v":16.0},{"s":29,"t":26.21,"v":16.6},{"s":29,"t":26.24,"v":17.2},{"s":29,"t":26.27,"v":16.9},{"s":29,"t":26.3,"v":17.4},{"s":29,"t":26.33,"v":17.0},
      {"s":30,"t":26.5,"v":17.0},{"s":30,"t":26.55,"v":17.5},{"s":30,"t":26.6,"v":17.1},{"s":30,"t":26.65,"v":17.6},{"s":30,"t":26.7,"v":17.3},{"s":30,"t":26.75,"v":17.8},{"s":30,"t":26.8,"v":17.4},{"s":30,"t":26.85,"v":17.6},{"s":30,"t":26.9,"v":17.2},{"s":30,"t":26.95,"v":17.5},{"s":30,"t":27.0,"v":17.0},{"s":30,"t":27.05,"v":17.4},{"s":30,"t":27.1,"v":16.9},{"s":30,"t":27.15,"v":17.5},{"s":30,"t":27.2,"v":17.1},{"s":30,"t":27.25,"v":17.3}
    ]
  },
  "vconcat": [
    {
      "width": 565,
      "height": 248,
      "resolve": {"axis": {"x": "independent", "y": "independent"}},
      "layer": [
        {
          "data": {"name": "px"},
          "mark": {"type": "line", "color": "black", "strokeWidth": 1.3},
          "encoding": {
            "x": {"field": "t", "type": "quantitative", "scale": {"domain": [0, 28], "nice": false, "zero": false}, "axis": null},
            "y": {"field": "v", "type": "quantitative", "scale": {"domain": [0.7, 38.3], "nice": false, "zero": false},
                  "axis": {"orient": "left", "values": [5, 10, 15, 20, 25, 30, 35], "ticks": false, "domain": false, "grid": false, "labelPadding": 15, "labelFontSize": 18, "title": "profile center x (ch)", "titleFontSize": 19, "titleAnchor": "end", "titlePadding": 16}},
            "detail": {"field": "s", "type": "nominal"}
          }
        },
        {
          "data": {"name": "px"},
          "mark": {"type": "point", "shape": "square", "filled": true, "size": 3, "color": "black", "opacity": 1},
          "encoding": {
            "x": {"field": "t", "type": "quantitative", "scale": {"domain": [0, 28], "nice": false, "zero": false}, "axis": null},
            "y": {"field": "v", "type": "quantitative", "scale": {"domain": [0.7, 38.3], "nice": false, "zero": false}, "axis": null}
          }
        },
        {
          "data": {"values": [{"v": 15.45}, {"v": 23.45}]},
          "mark": {"type": "rule", "color": "#ff0000", "strokeWidth": 1},
          "encoding": {
            "y": {"field": "v", "type": "quantitative", "scale": {"domain": [0.7, 38.3], "nice": false, "zero": false}, "axis": null}
          }
        },
        {
          "data": {"values": [{"v": 19.45}]},
          "mark": {"type": "rule", "color": "black", "strokeWidth": 1},
          "encoding": {
            "y": {"field": "v", "type": "quantitative", "scale": {"domain": [0.7, 38.3], "nice": false, "zero": false}, "axis": null}
          }
        },
        {
          "data": {"name": "yminor"},
          "mark": {"type": "point", "shape": "M0,0L1,0", "filled": false, "size": 100, "strokeWidth": 1.6, "color": "black", "opacity": 1},
          "encoding": {
            "y": {"field": "k", "type": "quantitative", "scale": {"domain": [0.7, 38.3], "nice": false, "zero": false}, "axis": null},
            "x": {"datum": 0.001, "type": "quantitative", "scale": {"domain": [0, 28], "nice": false, "zero": false}, "axis": null}
          }
        },
        {
          "data": {"name": "ymajor"},
          "mark": {"type": "point", "shape": "M0,0L1,0", "filled": false, "size": 324, "strokeWidth": 1.6, "color": "black", "opacity": 1},
          "encoding": {
            "y": {"field": "k", "type": "quantitative", "scale": {"domain": [0.7, 38.3], "nice": false, "zero": false}, "axis": null},
            "x": {"datum": 0.001, "type": "quantitative", "scale": {"domain": [0, 28], "nice": false, "zero": false}, "axis": null}
          }
        },
        {
          "data": {"name": "xminor"},
          "mark": {"type": "point", "shape": "M0,0L0,-1", "filled": false, "size": 64, "strokeWidth": 1.6, "color": "black", "opacity": 1},
          "encoding": {
            "x": {"field": "k", "type": "quantitative", "scale": {"domain": [0, 28], "nice": false, "zero": false}, "axis": null},
            "y": {"datum": 0.7, "type": "quantitative", "scale": {"domain": [0.7, 38.3], "nice": false, "zero": false}, "axis": null}
          }
        },
        {
          "data": {"values": [{"label": "South"}]},
          "mark": {"type": "text", "align": "left", "baseline": "alphabetic", "font": "DejaVu Sans", "fontSize": 26, "color": "black"},
          "encoding": {
            "x": {"datum": 0, "type": "quantitative", "scale": {"domain": [0, 28], "nice": false, "zero": false},
                  "axis": {"orient": "bottom", "values": [1,2,3,4,5,6,7,8,9,10,11,12,13,14,15,16,17,18,19,20,21,22,23,24,25,26,27], "grid": true, "gridColor": "black", "gridOpacity": 1, "gridWidth": 1, "ticks": false, "labels": false, "domain": false, "title": null}},
            "y": {"datum": 33.6, "type": "quantitative", "scale": {"domain": [0.7, 38.3], "nice": false, "zero": false}, "axis": null},
            "text": {"field": "label"}
          }
        },
        {
          "data": {"values": [{"label": "North"}]},
          "mark": {"type": "text", "align": "left", "baseline": "alphabetic", "font": "DejaVu Sans", "fontSize": 25, "color": "black"},
          "encoding": {
            "x": {"datum": 0, "type": "quantitative", "scale": {"domain": [0, 28], "nice": false, "zero": false}, "axis": null},
            "y": {"datum": 1.62, "type": "quantitative", "scale": {"domain": [0.7, 38.3], "nice": false, "zero": false}, "axis": null},
            "text": {"field": "label"}
          }
        }
      ]
    },
    {
      "width": 565,
      "height": 248,
      "resolve": {"axis": {"x": "independent", "y": "independent"}},
      "layer": [
        {
          "data": {"name": "py"},
          "mark": {"type": "line", "color": "black", "strokeWidth": 1.3},
          "encoding": {
            "x": {"field": "t", "type": "quantitative", "scale": {"domain": [0, 28], "nice": false, "zero": false},
                  "axis": {"orient": "bottom", "values": [0.5,1.5,2.5,3.5,4.5,5.5,6.5,7.5,8.5,9.5,10.5,11.5,12.5,13.5,14.5,15.5,16.5,17.5,18.5,19.5,20.5,21.5,22.5,23.5,24.5,25.5,26.5,27.5],
                           "labelExpr": "['99 Jun','99 Nov','00 Jan','00 Feb','00 Mar','00 May','00 Jun','01 Jan','01 Feb','01 Mar','01 Apr','01 May','01 Jun','01 Jul','02 Dec','03 Jan','03 Feb','03 Mar','03 Apr','03 May','03 Jun','03 Oct','03 Nov','03 Dec','04 Jan','04 Feb','04 Oct','04 Nov'][floor(datum.value)]",
                           "labelAngle": 90, "labelAlign": "left", "labelBaseline": "middle", "labelFlush": false, "labelOverlap": false, "labelBound": false, "labelPadding": 9, "labelOffset": -3, "labelFontSize": 14, "ticks": false, "domain": false, "grid": false, "title": null}},
            "y": {"field": "v", "type": "quantitative", "scale": {"domain": [0.9, 35.6], "nice": false, "zero": false},
                  "axis": {"orient": "left", "values": [5, 10, 15, 20, 25, 30, 35], "ticks": false, "domain": false, "grid": false, "labelPadding": 15, "labelFontSize": 18, "title": "profile center y (ch)", "titleFontSize": 19, "titleAnchor": "end", "titlePadding": 16}},
            "detail": {"field": "s", "type": "nominal"}
          }
        },
        {
          "data": {"name": "py"},
          "mark": {"type": "point", "shape": "square", "filled": true, "size": 3, "color": "black", "opacity": 1},
          "encoding": {
            "x": {"field": "t", "type": "quantitative", "scale": {"domain": [0, 28], "nice": false, "zero": false}, "axis": null},
            "y": {"field": "v", "type": "quantitative", "scale": {"domain": [0.9, 35.6], "nice": false, "zero": false}, "axis": null}
          }
        },
        {
          "data": {"values": [{"v": 14.3}, {"v": 22.3}]},
          "mark": {"type": "rule", "color": "#ff0000", "strokeWidth": 1},
          "encoding": {
            "y": {"field": "v", "type": "quantitative", "scale": {"domain": [0.9, 35.6], "nice": false, "zero": false}, "axis": null}
          }
        },
        {
          "data": {"values": [{"v": 18.3}]},
          "mark": {"type": "rule", "color": "black", "strokeWidth": 1},
          "encoding": {
            "y": {"field": "v", "type": "quantitative", "scale": {"domain": [0.9, 35.6], "nice": false, "zero": false}, "axis": null}
          }
        },
        {
          "data": {"name": "yminor"},
          "transform": [{"filter": "datum.k < 35"}],
          "mark": {"type": "point", "shape": "M0,0L1,0", "filled": false, "size": 100, "strokeWidth": 1.6, "color": "black", "opacity": 1},
          "encoding": {
            "y": {"field": "k", "type": "quantitative", "scale": {"domain": [0.9, 35.6], "nice": false, "zero": false}, "axis": null},
            "x": {"datum": 0.001, "type": "quantitative", "scale": {"domain": [0, 28], "nice": false, "zero": false}, "axis": null}
          }
        },
        {
          "data": {"name": "ymajor"},
          "mark": {"type": "point", "shape": "M0,0L1,0", "filled": false, "size": 324, "strokeWidth": 1.6, "color": "black", "opacity": 1},
          "encoding": {
            "y": {"field": "k", "type": "quantitative", "scale": {"domain": [0.9, 35.6], "nice": false, "zero": false}, "axis": null},
            "x": {"datum": 0.001, "type": "quantitative", "scale": {"domain": [0, 28], "nice": false, "zero": false}, "axis": null}
          }
        },
        {
          "data": {"name": "xminor"},
          "mark": {"type": "point", "shape": "M0,0L0,-1", "filled": false, "size": 64, "strokeWidth": 1.6, "color": "black", "opacity": 1},
          "encoding": {
            "x": {"field": "k", "type": "quantitative", "scale": {"domain": [0, 28], "nice": false, "zero": false}, "axis": null},
            "y": {"datum": 0.9, "type": "quantitative", "scale": {"domain": [0.9, 35.6], "nice": false, "zero": false}, "axis": null}
          }
        },
        {
          "data": {"values": [{"label": "Up"}]},
          "mark": {"type": "text", "align": "left", "baseline": "alphabetic", "font": "DejaVu Sans", "fontSize": 25, "color": "black"},
          "encoding": {
            "x": {"datum": 0, "type": "quantitative", "scale": {"domain": [0, 28], "nice": false, "zero": false},
                  "axis": {"orient": "bottom", "values": [1,2,3,4,5,6,7,8,9,10,11,12,13,14,15,16,17,18,19,20,21,22,23,24,25,26,27], "grid": true, "gridColor": "black", "gridOpacity": 1, "gridWidth": 1, "ticks": false, "labels": false, "domain": false, "title": null}},
            "y": {"datum": 32.05, "type": "quantitative", "scale": {"domain": [0.9, 35.6], "nice": false, "zero": false}, "axis": null},
            "text": {"field": "label"}
          }
        },
        {
          "data": {"values": [{"label": "Down"}]},
          "mark": {"type": "text", "align": "left", "baseline": "alphabetic", "font": "DejaVu Sans", "fontSize": 25, "color": "black"},
          "encoding": {
            "x": {"datum": 0, "type": "quantitative", "scale": {"domain": [0, 28], "nice": false, "zero": false}, "axis": null},
            "y": {"datum": 1.86, "type": "quantitative", "scale": {"domain": [0.9, 35.6], "nice": false, "zero": false}, "axis": null},
            "text": {"field": "label"}
          }
        }
      ]
    }
  ]
}
